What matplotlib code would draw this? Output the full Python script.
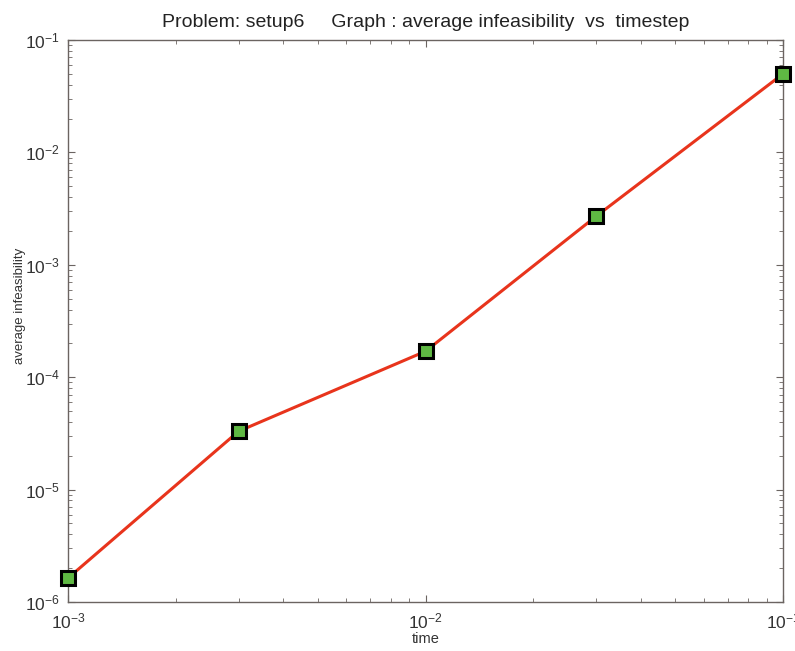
import matplotlib
matplotlib.use('Agg')
import matplotlib.pyplot as plt
from matplotlib.ticker import LogLocator, NullFormatter

plt.rcParams['font.family'] = ['Liberation Sans', 'DejaVu Sans']
plt.rcParams['mathtext.fontset'] = 'custom'
plt.rcParams['mathtext.rm'] = 'Liberation Sans'

# data
timestep = [1e-3, 3e-3, 1e-2, 3e-2, 1e-1]
infeas = [1.63e-6, 3.3e-5, 1.7e-4, 2.7e-3, 5.0e-2]

fig = plt.figure(figsize=(7.95, 6.51), dpi=100)
ax = fig.add_axes([0.0855, 0.0753, 0.8995, 0.8633])

ax.loglog(timestep, infeas, color='#e8341c', lw=2.2, marker='s', ms=10,
          mfc='#5fb843', mec='black', mew=2.2, zorder=3, clip_on=False)

ax.set_xlim(1e-3, 1e-1)
ax.set_ylim(1e-6, 1e-1)

for sp in ax.spines.values():
    sp.set_color('#6b6461')
    sp.set_linewidth(1.0)

ax.tick_params(which='both', direction='in', top=True, right=True,
               colors='#6b6461', labelcolor='#333333', labelsize=12.5)
ax.tick_params(which='major', length=5)
ax.tick_params(which='minor', length=3)
ax.tick_params(axis='x', which='major', pad=7)
ax.tick_params(axis='y', which='major', pad=6)
ax.xaxis.set_major_locator(LogLocator(base=10, numticks=10))
ax.yaxis.set_major_locator(LogLocator(base=10, numticks=10))
ax.xaxis.set_minor_locator(LogLocator(base=10, subs=range(2, 10), numticks=20))
ax.yaxis.set_minor_locator(LogLocator(base=10, subs=range(2, 10), numticks=20))
ax.xaxis.set_minor_formatter(NullFormatter())
ax.yaxis.set_minor_formatter(NullFormatter())

ax.set_xlabel('time', fontsize=10.5, color='#333333', labelpad=0)
ax.set_ylabel('average infeasibility', fontsize=9.5, color='#333333')
ax.yaxis.set_label_coords(-0.058, 0.527)
ax.set_title('Problem: setup6     Graph : average infeasibility  vs  timestep',
             fontsize=14, color='#222222', pad=9)

fig.savefig('out.png', dpi=100, facecolor='white')
